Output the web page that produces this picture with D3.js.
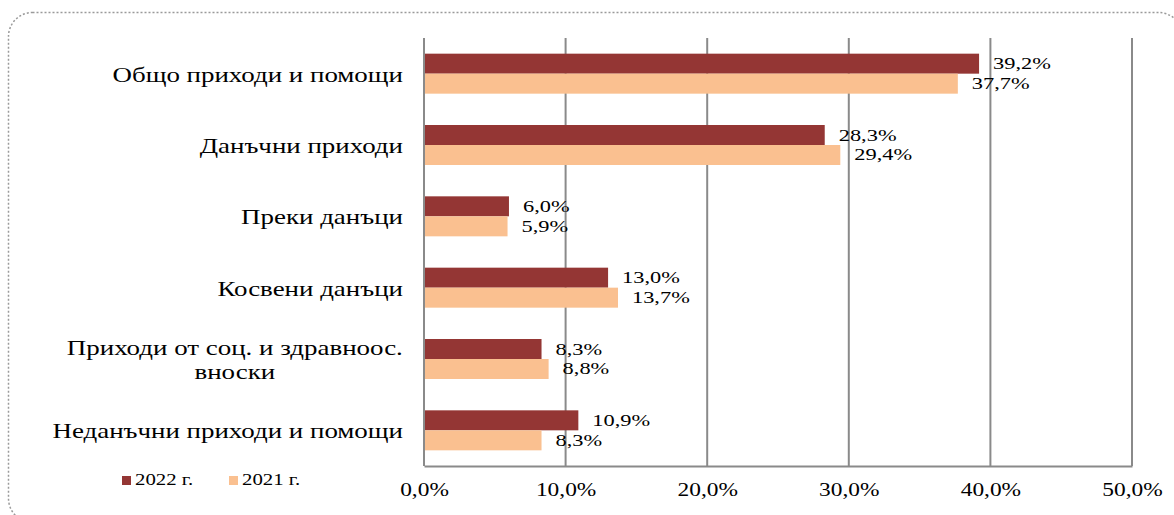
<!DOCTYPE html>
<html>
<head>
<meta charset="utf-8">
<script src="https://cdn.jsdelivr.net/npm/d3@7"></script>
<style>
  body { margin: 0; background: #fff; }
</style>
</head>
<body>
<div id="chart"></div>
<script>
// categories (top to bottom) and values, %
var categories = [
    "Общо приходи и помощи",
    "Данъчни приходи",
    "Преки данъци",
    "Косвени данъци",
    "Приходи от соц. и здравноос.|вноски",
    "Неданъчни приходи и помощи"
];
var values2022 = [39.2, 28.3, 6.0, 13.0, 8.3, 10.9];
var values2021 = [37.7, 29.4, 5.9, 13.7, 8.8, 8.3];
var seriesNames = ["2022 г.", "2021 г."];
var tickValues = [0, 10, 20, 30, 40, 50];

var svgWidth = 1174;
var svgHeight = 515;
var colors = ["#943634", "#FAC090"];
var serif = "'Liberation Serif'";
var fmt = function (v) { return v.toFixed(1).replace(".", ",") + "%"; };

// the original picture is wider than normal Times, so stretch the text
function stretch(sel, sx) {
    sel.each(function () {
        var t = d3.select(this);
        var x = +t.attr("x") || 0;
        var y = +t.attr("y") || 0;
        t.attr("transform", `translate(${x},${y}) scale(${sx},1) translate(${-x},${-y})`);
    });
}

var svg = d3.select("#chart")
    .append("svg")
    .attr("width", svgWidth)
    .attr("height", svgHeight);

// dotted rounded frame
svg.append("rect")
    .attr("x", 8.5).attr("y", 12.5)
    .attr("width", 1174).attr("height", 510)
    .attr("rx", 24).attr("ry", 24)
    .attr("fill", "none")
    .attr("stroke", "#9a9a9a")
    .attr("stroke-width", 1.5)
    .attr("stroke-dasharray", "2,2");

var xScale = d3.scaleLinear().domain([0, 50]).range([424, 1132]);
var yScale = d3.scaleBand().domain(categories).range([38, 466]);
var barH = 20;

// vertical grid lines
svg.selectAll("line.grid")
    .data(tickValues)
    .enter()
    .append("line")
    .attr("class", "grid")
    .attr("x1", d => xScale(d)).attr("x2", d => xScale(d))
    .attr("y1", 38).attr("y2", 466)
    .attr("stroke", "#8a8a8a")
    .attr("stroke-width", 2);

// bottom axis
var xAxis = d3.axisBottom(xScale).tickValues(tickValues).tickSize(0).tickFormat(fmt);
var axisG = svg.append("g").attr("transform", "translate(0,466)").call(xAxis);
axisG.select(".domain").attr("stroke", "#8a8a8a").attr("stroke-width", 2);
axisG.selectAll("text")
    .style("font-family", serif)
    .style("font-size", "19.5px")
    .attr("fill", "#000")
    .attr("y", 30)
    .attr("dy", 0)
    .attr("x", 0);
stretch(axisG.selectAll("text"), 1.2);

var rows = categories.map((c, i) => ({ cat: c, v: [values2022[i], values2021[i]] }));

var groups = svg.selectAll("g.row")
    .data(rows)
    .enter()
    .append("g")
    .attr("class", "row")
    .attr("transform", d => `translate(0, ${yScale(d.cat) + yScale.bandwidth() / 2})`);

// bars
groups.selectAll("rect")
    .data(d => d.v)
    .enter()
    .append("rect")
    .attr("x", xScale(0) + 1)
    .attr("y", (d, j) => -barH + j * barH)
    .attr("width", d => xScale(d) - xScale(0) - 1)
    .attr("height", barH)
    .attr("fill", (d, j) => colors[j]);

// value labels
var vals = groups.selectAll("text.val")
    .data(d => d.v)
    .enter()
    .append("text")
    .attr("class", "val")
    .attr("x", d => xScale(d) + 14)
    .attr("y", (d, j) => -barH / 2 + j * barH + 5.5)
    .style("font-family", serif)
    .style("font-size", "16px")
    .text(fmt);
stretch(vals, 1.4);

// category labels
var catScale = 1.225;
groups.each(function (d) {
    var lines = d.cat.split("|");
    var g = d3.select(this);
    if (lines.length === 1) {
        var t1 = g.append("text")
            .attr("x", 403).attr("y", 8)
            .attr("text-anchor", "end")
            .style("font-family", serif)
            .style("font-size", "22px")
            .text(lines[0]);
        stretch(t1, catScale);
    } else {
        var t = g.append("text")
            .attr("text-anchor", "middle")
            .style("font-family", serif)
            .style("font-size", "22px");
        lines.forEach((l, k) => {
            t.append("tspan").attr("x", 0)
                .attr("y", (k - (lines.length - 1) / 2) * 25 + 8)
                .text(l);
        });
        var w = t.node().getBBox().width;
        var cx = 403 - w / 2;
        t.selectAll("tspan").attr("x", cx);
        t.attr("x", 403).attr("y", 0);
        stretch(t, catScale);
    }
});

// legend
var legend = svg.selectAll("g.legend")
    .data(seriesNames)
    .enter()
    .append("g")
    .attr("class", "legend")
    .attr("transform", (d, i) => `translate(${122 + i * 107}, 476)`);
legend.append("rect")
    .attr("width", 9).attr("height", 9)
    .attr("fill", (d, i) => colors[i]);
var legText = legend.append("text")
    .attr("x", 13).attr("y", 9)
    .style("font-family", serif)
    .style("font-size", "16px")
    .text(d => d);
stretch(legText, 1.3);
</script>
</body>
</html>
